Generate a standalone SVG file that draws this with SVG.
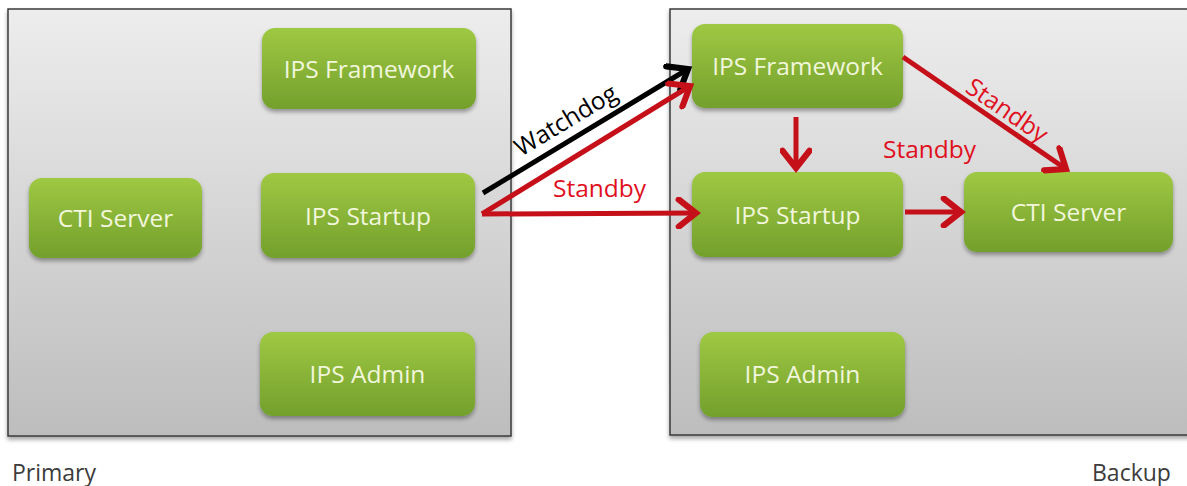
<svg xmlns="http://www.w3.org/2000/svg" width="1187" height="486" viewBox="0 0 1187 486">
  <defs>
    <linearGradient id="panelFill" x1="0" y1="0" x2="0" y2="1">
      <stop offset="0" stop-color="#ededed"/>
      <stop offset="1" stop-color="#bdbdbd"/>
    </linearGradient>
    <linearGradient id="nodeFill" x1="0" y1="0" x2="0" y2="1">
      <stop offset="0" stop-color="#9fc843"/>
      <stop offset="1" stop-color="#73a02c"/>
    </linearGradient>
    <filter id="nodeShadow" x="-10%" y="-10%" width="120%" height="130%">
      <feDropShadow dx="0" dy="3" stdDeviation="2" flood-color="#000" flood-opacity="0.35"/>
    </filter>
    <marker id="arrowRed" markerUnits="userSpaceOnUse" markerWidth="32" markerHeight="32" viewBox="-17 -13 21 26" refX="0" refY="0" orient="auto">
      <path d="M-14,-11 L0,0 L-14,11" fill="none" stroke="#c5101a" stroke-width="5" stroke-linecap="round" stroke-linejoin="miter"/>
    </marker>
    <marker id="arrowBlack" markerUnits="userSpaceOnUse" markerWidth="32" markerHeight="32" viewBox="-17 -13 21 26" refX="0" refY="0" orient="auto">
      <path d="M-14,-11 L0,0 L-14,11" fill="none" stroke="#000" stroke-width="5" stroke-linecap="round" stroke-linejoin="miter"/>
    </marker>
    <style>
      .panel { fill: url(#panelFill); stroke: #3a3a3a; stroke-width: 1.5; filter: url(#nodeShadow); }
      .node rect { fill: url(#nodeFill); filter: url(#nodeShadow); }
      .node text { font-family: "Open Sans", "Noto Sans", sans-serif; font-size: 24.5px; fill: #f1f6dc; text-anchor: middle; }
      .caption { font-family: "Open Sans", "Noto Sans", sans-serif; font-size: 23px; fill: #3c3c3c; }
      .red { stroke: #c5101a; stroke-width: 5; fill: none; marker-end: url(#arrowRed); }
      .black { stroke: #000; stroke-width: 5; fill: none; marker-end: url(#arrowBlack); }
      .lbl { font-family: "Open Sans", "Noto Sans", sans-serif; font-size: 24.5px; }
      .lbl.r { fill: #e0101e; }
      .lbl.k { fill: #000; }
    </style>
  </defs>

  <rect width="1187" height="486" fill="#fff"/>

  <!-- Site panels -->
  <g id="primary-panel">
    <rect class="panel" x="8" y="9" width="503" height="427"/>
    <text class="caption" x="12" y="481">Primary</text>
  </g>
  <g id="backup-panel">
    <rect class="panel" x="670" y="9" width="530" height="426"/>
    <text class="caption" x="1092" y="481">Backup</text>
  </g>

  <!-- Primary site components -->
  <g id="primary-framework" class="node">
    <rect x="262" y="28" width="214" height="81" rx="13"/>
    <text x="369" y="78">IPS Framework</text>
  </g>
  <g id="primary-cti" class="node">
    <rect x="29" y="178" width="173" height="80" rx="13"/>
    <text x="115.5" y="227">CTI Server</text>
  </g>
  <g id="primary-startup" class="node">
    <rect x="261" y="173" width="214" height="85" rx="13"/>
    <text x="368" y="225">IPS Startup</text>
  </g>
  <g id="primary-admin" class="node">
    <rect x="260" y="332" width="215" height="84" rx="13"/>
    <text x="367.5" y="383">IPS Admin</text>
  </g>

  <!-- Backup site components -->
  <g id="backup-framework" class="node">
    <rect x="692" y="24" width="211" height="84" rx="13"/>
    <text x="797.5" y="75">IPS Framework</text>
  </g>
  <g id="backup-startup" class="node">
    <rect x="692" y="172" width="211" height="85" rx="13"/>
    <text x="797.5" y="224">IPS Startup</text>
  </g>
  <g id="backup-cti" class="node">
    <rect x="964" y="172" width="209" height="80" rx="13"/>
    <text x="1068.5" y="221">CTI Server</text>
  </g>
  <g id="backup-admin" class="node">
    <rect x="700" y="332" width="205" height="85" rx="13"/>
    <text x="802.5" y="383">IPS Admin</text>
  </g>

  <!-- Connectors -->
  <g id="connectors">
    <line class="black" x1="483" y1="193" x2="688" y2="69"/>
    <line class="red" x1="482" y1="214" x2="690" y2="86"/>
    <line class="red" x1="482" y1="214" x2="696" y2="213"/>
    <line class="red" x1="796" y1="117" x2="796" y2="168"/>
    <line class="red" x1="903" y1="57" x2="1066" y2="169"/>
    <line class="red" x1="905" y1="212" x2="961" y2="212"/>

    <text class="lbl k" x="521" y="157" transform="rotate(-31 521 157)">Watchdog</text>
    <text class="lbl r" x="553" y="197">Standby</text>
    <text class="lbl r" x="883" y="158">Standby</text>
    <text class="lbl r" x="964" y="91" transform="rotate(34.6 964 91)">Standby</text>
  </g>
</svg>
